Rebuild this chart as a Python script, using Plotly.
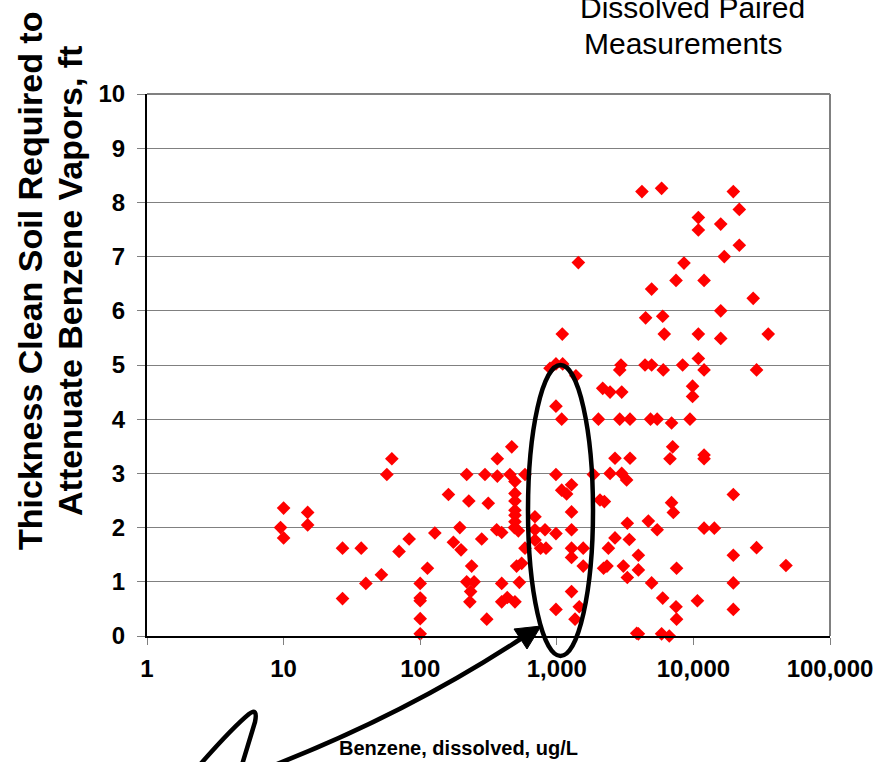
import plotly.graph_objects as go

# ---------------- data ----------------
benzene_ugL = [
    10, 9.5, 10, 15, 15, 62, 57, 27, 37, 27, 40, 52, 70, 83, 128, 113, 100, 100, 100, 100, 100,
    161, 195, 175, 199, 219, 227, 238, 219, 248, 234, 231, 282, 298, 315, 307, 367, 367, 363,
    395, 395, 395, 434, 468, 454, 494, 494, 494, 494, 494, 494, 490, 523, 494, 532, 508, 553,
    585, 585, 692, 692, 692, 820, 761, 834, 986, 986, 986, 1086, 892, 986, 1104, 1380, 1086,
    1180, 1282, 1282, 1282, 1282, 1282, 1561, 1561, 1282, 986, 1460, 1360, 1853, 2017, 2071,
    2230, 2168, 2454, 2987, 2950, 2888, 2888, 3435, 2667, 3435, 2454, 2987, 3244, 3283, 2667,
    2386, 3396, 2200, 2330, 3070, 3283, 3955, 3845,
    1438, 1097, 4200,
    5850, 19600, 21680, 10870, 10870, 15850, 21680, 16830, 8530, 7460, 11970, 4945, 27400,
    4470, 5960, 15850, 6120, 10870, 15850, 35300, 10870,
    4425, 4945, 6015, 8340, 11970, 29000, 9860, 9860, 4855, 5430, 6920, 9440, 7050, 6740,
    11970, 11970, 6920, 7130, 19600, 4680, 5430, 11970, 14230, 3955, 19600, 29000, 7530,
    47600, 4945, 19600, 5960, 7460, 10700, 19600, 7530, 3955, 5850, 6660,
]
thickness_ft = [
    2.36, 2.0, 1.81, 2.28, 2.05, 3.27, 2.98, 1.62, 1.62, 0.69, 0.97, 1.13, 1.56, 1.79, 1.90, 1.25, 0.97, 0.70, 0.65, 0.32, 0.04,
    2.61, 2.0, 1.73, 1.59, 2.98, 2.49, 1.29, 1.0, 1.0, 0.82, 0.63, 1.79, 2.98, 2.45, 0.31, 3.27, 2.95, 1.96,
    1.91, 0.97, 0.63, 0.71, 3.49, 2.98, 2.85, 2.63, 2.49, 2.32, 2.23, 2.11, 2.0, 1.94, 0.63, 0.99, 1.29, 1.34,
    2.98, 1.62, 2.2, 1.96, 1.77, 1.96, 1.62, 1.62, 1.89, 2.98, 4.24, 4.0, 4.94, 5.02, 5.02, 4.80, 2.69,
    2.62, 2.79, 2.29, 1.96, 1.62, 1.45, 1.62, 1.29, 0.82, 0.49, 0.54, 0.31, 2.98, 4.0, 2.51,
    2.48, 4.57, 4.5, 4.5, 5.0, 4.91, 4.0, 4.0, 3.28, 3.28, 3.0, 3.0, 2.88, 2.08, 1.81,
    1.62, 1.78, 1.25, 1.29, 1.29, 1.08, 1.22, 0.05,
    6.89, 5.57, 8.2,
    8.26, 8.2, 7.87, 7.72, 7.49, 7.6, 7.21, 7.0, 6.88, 6.56, 6.56, 6.40, 6.23,
    5.87, 5.90, 6.0, 5.57, 5.57, 5.49, 5.57, 5.12,
    5.0, 5.0, 4.91, 5.0, 4.91, 4.91, 4.61, 4.42, 4.0, 4.0, 3.93, 4.0, 3.49, 3.27,
    3.34, 3.27, 2.46, 2.28, 2.61, 2.12, 1.96, 1.99, 1.99, 1.49, 1.49, 1.63, 1.25,
    1.30, 0.98, 0.98, 0.7, 0.54, 0.65, 0.49, 0.31, 0.04, 0.04, 0.0,
]
x_tickvals = [1, 10, 100, 1000, 10000, 100000]
x_ticktext = ["1", "10", "100", "1,000", "10,000", "100,000"]
y_tickvals = [0, 1, 2, 3, 4, 5, 6, 7, 8, 9, 10]

# ---------------- layout geometry ----------------
W, H = 877, 762
L, R, T, B = 147, 830, 94, 636   # plot area in pixels

def px(X, Y):
    return (X - L) / (R - L), (B - Y) / (B - T)

def path(cmds):
    out = []
    for c in cmds:
        if isinstance(c, str):
            out.append(c)
        else:
            a, b = px(*c)
            out.append(f"{a:.5f},{b:.5f}")
    return " ".join(out)

FONT = "Liberation Sans, Arial, sans-serif"

fig = go.Figure()
fig.add_trace(go.Scatter(
    x=benzene_ugL, y=thickness_ft, mode="markers",
    marker=dict(symbol="diamond", size=10.5, color="#FF0000", line=dict(width=0)),
    cliponaxis=False, hoverinfo="x+y",
))

shapes = []
shapes.append(dict(type="line", xref="paper", yref="paper", x0=0, x1=1, y0=1, y1=1,
                   line=dict(color="#808080", width=2)))
shapes.append(dict(type="line", xref="paper", yref="paper", x0=1, x1=1, y0=0, y1=1,
                   line=dict(color="#808080", width=2)))
ex0, ey0 = px(528, 656)
ex1, ey1 = px(593, 365)
shapes.append(dict(type="circle", xref="paper", yref="paper", x0=ex0, x1=ex1, y0=ey0, y1=ey1,
                   line=dict(color="black", width=4.5)))
shapes.append(dict(type="path", xref="paper", yref="paper",
                   path=path(["M", (272, 766), "Q", (408, 713), (522, 638)]),
                   line=dict(color="black", width=4.5)))
shapes.append(dict(type="path", xref="paper", yref="paper",
                   path=path(["M", (541, 626), "L", (527, 649), "L", (514, 629), "Z"]),
                   fillcolor="black", line=dict(color="black", width=1)))
shapes.append(dict(type="path", xref="paper", yref="paper",
                   path=path(["M", (197, 768), "Q", (232, 728), (249, 714),
                              "Q", (258, 707), (255, 722), "Q", (247, 748), (241, 768)]),
                   line=dict(color="black", width=4.5)))

annotations = []
def ann(text, X, Y, size, bold=True, angle=0):
    a, b = px(X, Y)
    annotations.append(dict(text=text, x=a, y=b, xref="paper", yref="paper",
                            xanchor="center", yanchor="middle", showarrow=False,
                            textangle=angle,
                            font=dict(family=FONT, size=size, color="black",
                                      weight="bold" if bold else "normal")))

ann("Thickness Clean Soil Required to", 30, 281, 34, angle=-90)
ann("Attenuate Benzene Vapors, ft", 70, 281, 34, angle=-90)
ann("Benzene, dissolved, ug/L", 458, 748, 20)
ann("Dissolved Paired", 692, 7, 30, bold=False)
ann("Measurements", 683, 43, 30, bold=False)

fig.update_layout(
    width=W, height=H, autosize=False,
    margin=dict(l=L, r=W - R, t=T, b=H - B, pad=0, autoexpand=False),
    paper_bgcolor="white", plot_bgcolor="white",
    showlegend=False,
    shapes=shapes, annotations=annotations,
    xaxis=dict(type="log", range=[0, 5], tickvals=x_tickvals, ticktext=x_ticktext,
               automargin=False,
               showgrid=False, zeroline=False, showline=True, linecolor="black", linewidth=2,
               ticks="outside", ticklen=7, tickwidth=1, tickcolor="#808080",
               tickfont=dict(family=FONT, size=24, color="black", weight="bold"),
               ticklabeloverflow="allow", ticklabelstandoff=3,
               fixedrange=True),
    yaxis=dict(range=[0, 10], tickvals=y_tickvals, automargin=False,
               showgrid=True, gridcolor="#808080", gridwidth=1,
               zeroline=False, showline=True, linecolor="black", linewidth=2,
               ticks="outside", ticklen=8, tickwidth=1, tickcolor="#808080",
               tickfont=dict(family=FONT, size=24, color="black", weight="bold"),
               ticklabelstandoff=7,
               fixedrange=True),
)

fig.write_html("out.html")
